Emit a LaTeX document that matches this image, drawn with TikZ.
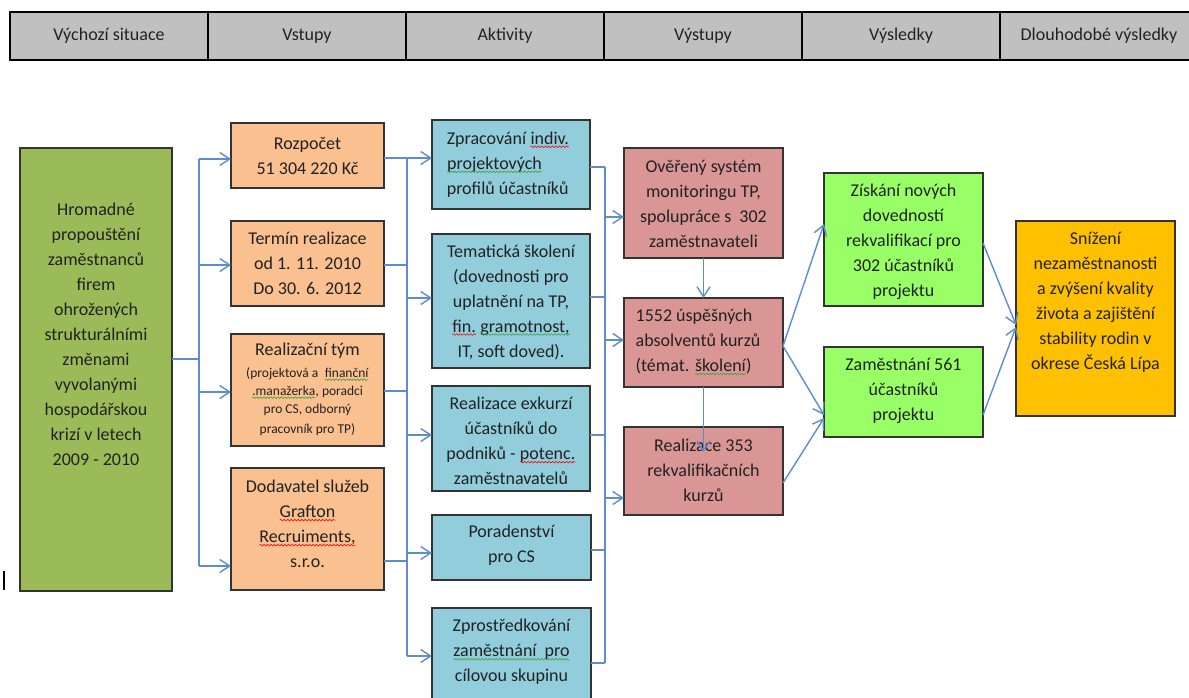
\documentclass[tikz,border=0pt]{standalone}
\usepackage{fontspec}
\setmainfont{Carlito}
\usetikzlibrary{arrows.meta,decorations.pathmorphing}
\definecolor{hdrgray}{HTML}{C0C0C0}
\definecolor{sitgreen}{HTML}{9BBB59}
\definecolor{inorange}{HTML}{FAC090}
\definecolor{actblue}{HTML}{92CDDC}
\definecolor{outred}{HTML}{D99694}
\definecolor{resgreen}{HTML}{99FF66}
\definecolor{longgold}{HTML}{FFC000}
\definecolor{conblue}{HTML}{5F8CCD}
\definecolor{boxline}{HTML}{333333}
\definecolor{txtcol}{HTML}{222222}
\definecolor{spellgreen}{HTML}{3CA03C}
\newcommand\mySpell[2]{\tikz[baseline=(sq.base)]{\node[inner sep=0pt,outer sep=0pt,draw=none,fill=none,minimum width=0pt,minimum height=0pt,anchor=center] (sq) {#2};\draw[#1,line width=0.6pt,fill=none,decorate,decoration={snake,amplitude=0.8pt,segment length=3.5pt}] ([yshift=-2.5pt]sq.base west) -- ([yshift=-2.5pt]sq.base east);}}
\newcommand\sqR[1]{\mySpell{red}{#1}}
\newcommand\sqG[1]{\mySpell{spellgreen}{#1}}
\newcommand\smallT{\fontsize{13.5}{18}\selectfont}
\begin{document}
\begin{tikzpicture}[x=1pt,y=-1pt,
  hdr/.style={draw=black,line width=2.2pt,fill=hdrgray,minimum width=198pt,minimum height=48pt,inner sep=0pt,outer sep=0pt,font=\fontsize{18}{22}\selectfont,text=txtcol},
  box/.style={draw=boxline,line width=1.5pt,inner sep=2pt,outer sep=0pt,align=center,font=\fontsize{18}{25}\selectfont,text=txtcol},
  txtonly/.style={inner sep=0pt,outer sep=0pt,align=center,font=\fontsize{18}{25}\selectfont,text=txtcol},
  conn/.style={draw=conblue,line width=1.4pt},
  arr/.style={conn,-{Straight Barb[length=10pt,width=13pt]}}
]
\useasboundingbox (0,0) rectangle (1189,698);
\clip (0,0) rectangle (1189,698);

% header
\node[hdr] (h1) at (109,36) {Výchozí situace};
\node[hdr] (h2) at (307,36) {Vstupy};
\node[hdr] (h3) at (505,36) {Aktivity};
\node[hdr] (h4) at (703,36) {Výstupy};
\node[hdr] (h5) at (901,36) {Výsledky};
\node[hdr] (h6) at (1099,36) {Dlouhodobé výsledky};

% starting situation
\node[box,fill=sitgreen,minimum width=152pt,minimum height=443pt] (sit) at (96,369.5) {};
\node[txtonly] (sitT) at (96,334) {Hromadné\\propouštění\\zaměstnanců\\firem\\ohrožených\\strukturálními\\změnami\\vyvolanými\\hospodářskou\\krizí v letech\\2009 - 2010};

% inputs
\node[box,fill=inorange,minimum width=153pt,minimum height=65pt] (roz) at (307.5,155.5) {};
\node[txtonly] (rozT) at (307.5,155.5) {Rozpočet\\51 304 220 Kč};
\node[box,fill=inorange,minimum width=153pt,minimum height=85pt] (ter) at (307.5,263.5) {};
\node[txtonly] (terT) at (307.5,263.5) {Termín realizace\\od 1. 11. 2010\\Do 30. 6. 2012};
\node[box,fill=inorange,minimum width=153pt,minimum height=112pt] (tym) at (307.5,390) {};
\node[txtonly] (tymT) at (307.5,389) {Realizační tým\\[-3pt]\smallT (projektová a \ \sqG{finanční}\\[-7pt]\smallT\sqG{.manažerka}, poradci\\[-7pt]\smallT pro CS, odborný\\[-5pt]\smallT pracovník pro TP)};
\node[box,fill=inorange,minimum width=153pt,minimum height=122pt] (dod) at (307.5,529) {};
\node[txtonly] (dodT) at (307.5,524) {Dodavatel služeb\\\sqR{Grafton}\\\sqR{Recruiments,}\\s.r.o.};

% activities
\node[box,fill=actblue,minimum width=158pt,minimum height=89pt] (zpr) at (511,164.5) {};
\node[txtonly,align=left] (zprT) at (508,164.5) {Zpracování \sqR{indiv.}\\\sqG{projektových}\\profilů účastníků};
\node[box,fill=actblue,minimum width=158pt,minimum height=134pt] (tem) at (511,301) {};
\node[txtonly] (temT) at (511,302) {Tematická školení\\(dovednosti pro\\uplatnění na TP,\\\sqR{fin.} \sqG{gramotnost,}\\IT, soft doved).};
\node[box,fill=actblue,minimum width=158pt,minimum height=105pt] (exk) at (511,438.5) {};
\node[txtonly] (exkT) at (511,441) {Realizace exkurzí\\účastníků do\\podniků - \sqR{potenc.}\\zaměstnavatelů};
\node[box,fill=actblue,minimum width=159pt,minimum height=65pt] (por) at (511.5,547.5) {};
\node[txtonly] (porT) at (511.5,545) {Poradenství\\pro CS};
\node[box,fill=actblue,minimum width=159pt,minimum height=112pt] (zpro) at (511.5,664) {};
\node[txtonly] (zproT) at (511.5,652) {Zprostředkování\\\sqG{zaměstnání \ pro}\\cílovou skupinu};

% outputs
\node[box,fill=outred,minimum width=159pt,minimum height=110pt] (ove) at (703.5,203) {};
\node[txtonly] (oveT) at (703.5,204) {Ověřený systém\\monitoringu TP,\\spolupráce s \ 302\\zaměstnavateli};
\node[box,fill=outred,minimum width=159pt,minimum height=89pt] (abs) at (703.5,342.5) {};
\node[txtonly,align=left] (absT) at (698,342) {1552 úspěšných\\absolventů kurzů\\(témat. \sqG{školení})};
\node[box,fill=outred,minimum width=159pt,minimum height=88pt] (r353) at (703.5,471) {};
\node[txtonly] (r353T) at (703.5,470) {Realizace 353\\rekvalifikačních\\kurzů};

% results
\node[box,fill=resgreen,minimum width=159pt,minimum height=133pt] (zis) at (903.5,239.5) {};
\node[txtonly] (zisT) at (903.5,242) {Získání nových\\dovedností\\rekvalifikací pro\\302 účastníků\\projektu};
\node[box,fill=resgreen,minimum width=159pt,minimum height=90pt] (zam) at (903.5,392) {};
\node[txtonly] (zamT) at (903.5,391) {Zaměstnání 561\\účastníků\\projektu};

% long-term result
\node[box,fill=longgold,minimum width=159pt,minimum height=195pt] (yel) at (1095.5,318.5) {};
\node[txtonly] (yelT) at (1095.5,302.5) {Snížení\\nezaměstnanosti\\a zvýšení kvality\\života a zajištění\\stability rodin v\\okrese Česká Lípa};

% bus A
\coordinate (A0) at (199,359);
\coordinate (A1) at (199,159);
\coordinate (A2) at (199,265);
\coordinate (A3) at (199,392);
\coordinate (A4) at (199,566);
\draw[conn] (sit.east |- A0) -- (A0);
\draw[conn] (A1) -- (A4);
\draw[arr] (A1) -- (roz.west |- A1);
\draw[arr] (A2) -- (ter.west |- A2);
\draw[arr] (A3) -- (tym.west |- A3);
\draw[arr] (A4) -- (dod.west |- A4);

% bus B
\coordinate (B1) at (407,158);
\coordinate (B2) at (407,265);
\coordinate (B3) at (407,391);
\coordinate (B4) at (407,561);
\coordinate (B5) at (407,298);
\coordinate (B6) at (407,435);
\coordinate (B7) at (407,553);
\coordinate (B8) at (407,656);
\draw[conn] (roz.east |- B1) -- (B1);
\draw[conn] (ter.east |- B2) -- (B2);
\draw[conn] (tym.east |- B3) -- (B3);
\draw[conn] (dod.east |- B4) -- (B4);
\draw[conn] (B1) -- (B8);
\draw[arr] (B1) -- (zpr.west |- B1);
\draw[arr] (B5) -- (tem.west |- B5);
\draw[arr] (B6) -- (exk.west |- B6);
\draw[arr] (B7) -- (por.west |- B7);
\draw[arr] (B8) -- (zpro.west |- B8);

% bus C
\coordinate (C1) at (605,167);
\coordinate (C2) at (605,297);
\coordinate (C3) at (605,435);
\coordinate (C4) at (605,550);
\coordinate (C5) at (605,663);
\coordinate (C6) at (605,217);
\coordinate (C7) at (605,340);
\coordinate (C8) at (605,498);
\draw[conn] (zpr.east |- C1) -- (C1);
\draw[conn] (tem.east |- C2) -- (C2);
\draw[conn] (exk.east |- C3) -- (C3);
\draw[conn] (por.east |- C4) -- (C4);
\draw[conn] (zpro.east |- C5) -- (C5);
\draw[conn] (C1) -- (C5);
\draw[arr] (C6) -- (ove.west |- C6);
\draw[arr] (C7) -- (abs.west |- C7);
\draw[arr] (C8) -- (r353.west |- C8);

% vertical output links
\coordinate (R3in) at (703.5,452);
\draw[arr] (ove.south) -- (abs.north);
\draw[arr] (abs.south) -- (R3in);

% diagonals
\coordinate (D1) at (783,346);
\coordinate (D2) at (824,224);
\coordinate (D3) at (824,415);
\coordinate (D4) at (783,483);
\coordinate (D5) at (824,418);
\coordinate (D6) at (983,243);
\coordinate (D7) at (1016,325);
\coordinate (D8) at (983,415);
\coordinate (D9) at (1016,327);
\draw[arr] (abs.east |- D1) -- (zis.west |- D2);
\draw[arr] (abs.east |- D1) -- (zam.west |- D3);
\draw[arr] (r353.east |- D4) -- (zam.west |- D5);
\draw[arr] (zis.east |- D6) -- (yel.west |- D7);
\draw[arr] (zam.east |- D8) -- (yel.west |- D9);

% text cursor mark
\draw[black,line width=2pt] (4,571) -- (4,590);
\end{tikzpicture}
\end{document}
